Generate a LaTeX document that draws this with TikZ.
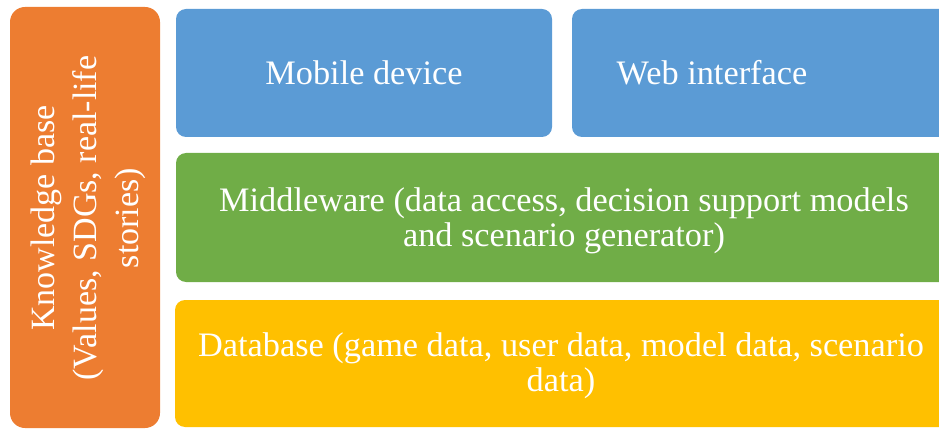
\documentclass[tikz,border=0pt]{standalone}
\usepackage{fontspec}
\setmainfont{Liberation Serif}
\definecolor{kbOrange}{HTML}{ED7D31}
\definecolor{uiBlue}{HTML}{5B9BD5}
\definecolor{mwGreen}{HTML}{70AD47}
\definecolor{dbYellow}{HTML}{FFC000}
\begin{document}
\begin{tikzpicture}[x=1pt,y=-1pt,
  layer/.style={rounded corners=10pt},
  lbl/.style={text=white, align=center, font=\fontsize{34.3}{35}\selectfont, inner sep=0pt},
  vlbl/.style={text=white, align=center, font=\fontsize{34}{42}\selectfont, inner sep=0pt, rotate=90}]
\useasboundingbox (0,0) rectangle (939,430);
\fill[kbOrange, rounded corners=15pt] (10,7) rectangle (160,428);
\fill[uiBlue, layer] (176,9) rectangle (552,137);
\fill[uiBlue, layer] (572,9) rectangle (955,137);
\fill[mwGreen, layer] (176,153) rectangle (955,282);
\fill[dbYellow, layer] (175,300) rectangle (955,427);
\node[vlbl] (kb) at (88,218) {Knowledge base\\(Values, SDGs, real-life\\stories)};
\node[lbl] (mob) at (364,73) {Mobile device};
\node[lbl] (web) at (712,73) {Web interface};
\node[lbl] (mw) at (564,221) {Middleware (data access, decision support models\\and scenario generator)};
\node[lbl] (db) at (561,366) {Database (game data, user data, model data, scenario\\data)};
\end{tikzpicture}
\end{document}
